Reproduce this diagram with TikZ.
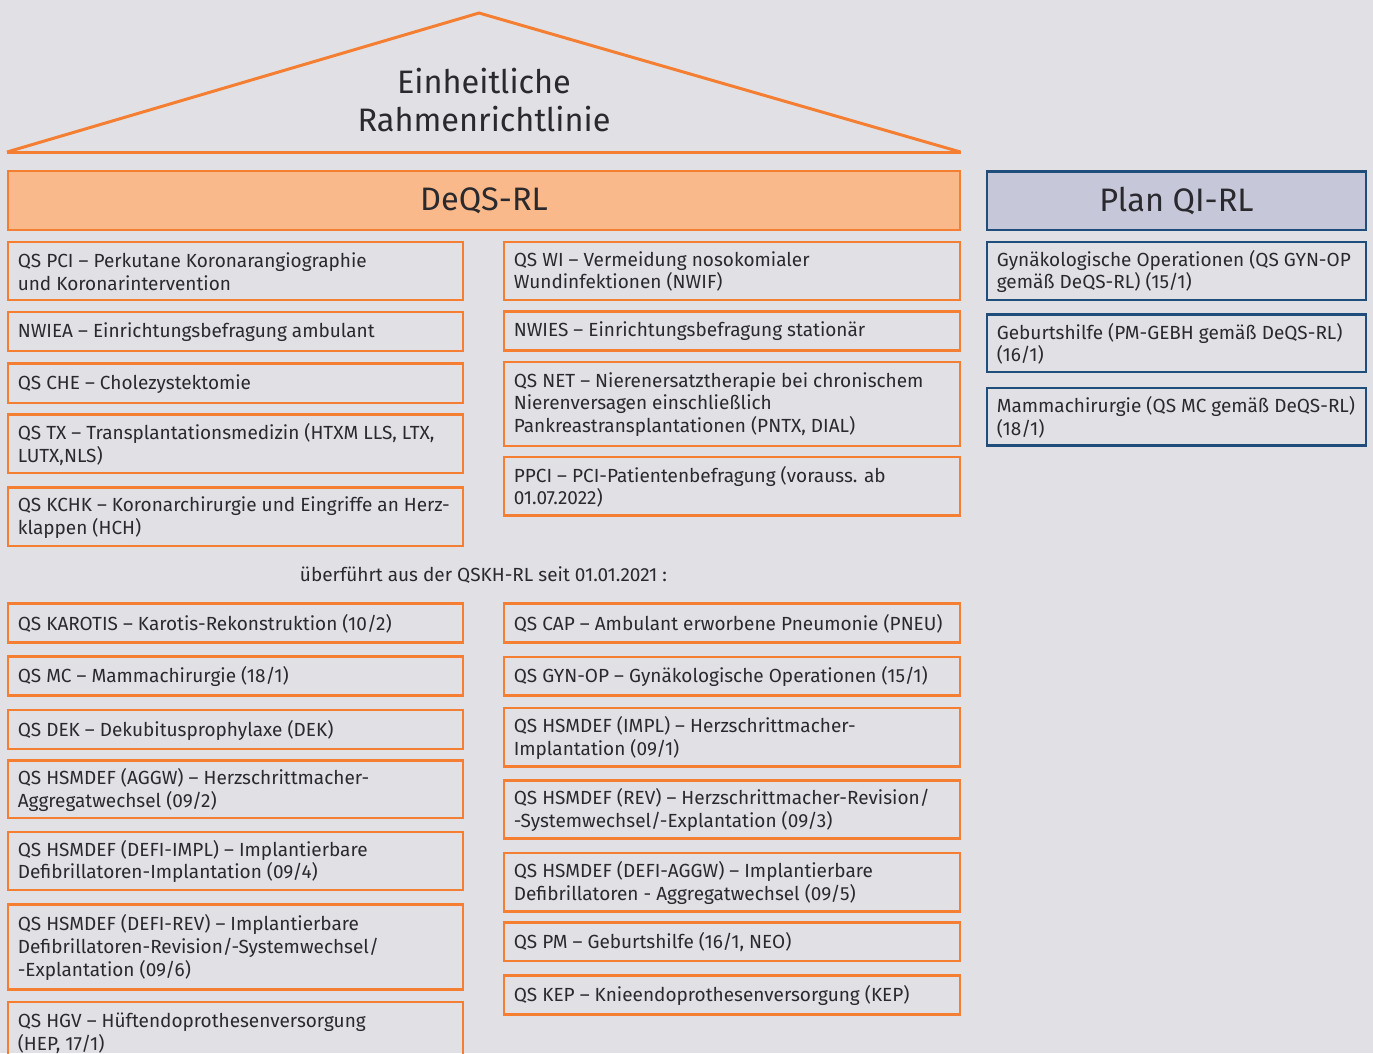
\documentclass[tikz,border=0pt]{standalone}
\usepackage{fontspec}
\setmainfont{Fira Sans}
\usetikzlibrary{fit}
\definecolor{bgc}{HTML}{E1E1E5}
\definecolor{org}{HTML}{F47F32}
\definecolor{orgfill}{HTML}{FAB98A}
\definecolor{blu}{HTML}{1F4E7C}
\definecolor{blufill}{HTML}{C6C8DA}
\definecolor{txc}{HTML}{2A2A2E}
\tikzset{
  obox/.style={draw=org, line width=2.8pt, inner sep=0pt},
  bbox/.style={draw=blu, line width=2.8pt, inner sep=0pt},
  txt/.style={anchor=west, xshift=11pt, yshift=-0.5pt, align=left, inner sep=0pt, text=txc,
    font=\fontsize{19}{22.8}\selectfont},
  big/.style={align=center, inner sep=0pt, text=txc, font=\fontsize{32.5}{38}\selectfont},
}
\begin{document}
\begin{tikzpicture}[x=1pt,y=-1pt]
\useasboundingbox (0,0) rectangle (1373,1053);
\clip (0,0) rectangle (1373,1053);
\fill[bgc] (0,0) rectangle (1373,1053);
% roof
\coordinate (rl) at (7,152);
\coordinate (ra) at (479,13);
\coordinate (rr) at (960.5,152);
\draw[org, line width=3pt, line join=miter] (rl) -- (ra) -- (rr);
\draw[org, line width=3pt] (rl) -- (rr);
\node[big] (rooft) at (484,100) {Einheitliche\\Rahmenrichtlinie};
% headers
\node[obox, fill=orgfill, fit={(8,171) (960,230)}] (deqs) {};
\node[big] at (deqs.center) {DeQS-RL};
\node[bbox, fill=blufill, fit={(987,171.5) (1366,230)}] (plan) {};
\node[big] at (plan.center) {Plan QI-RL};
% left column, group 1
\node[obox, fit={(8,242) (463,300)}] (pci) {};
\node[txt] (pcit) at (pci.west) {QS PCI – Perkutane Koronarangiographie\\und Koronarintervention};
\node[obox, fit={(8,312) (463,351)}] (nwiea) {};
\node[txt] (nwieat) at (nwiea.west) {NWIEA – Einrichtungsbefragung ambulant};
\node[obox, fit={(8,363.5) (463,403)}] (che) {};
\node[txt] (chet) at (che.west) {QS CHE – Cholezystektomie};
\node[obox, fit={(8,414.5) (463,473)}] (tx) {};
\node[txt] (txt) at (tx.west) {QS TX – Transplantationsmedizin (HTXM LLS, LTX,\\LUTX,NLS)};
\node[obox, fit={(8,487.5) (463,546)}] (kchk) {};
\node[txt] (kchkt) at (kchk.west) {QS KCHK – Koronarchirurgie und Eingriffe an Herz-\\klappen (HCH)};
% right column, group 1
\node[obox, fit={(504,242) (960,300)}] (wi) {};
\node[txt] (wit) at (wi.west) {QS WI – Vermeidung nosokomialer\\Wundinfektionen (NWIF)};
\node[obox, fit={(504,311.5) (960,350.5)}] (nwies) {};
\node[txt] (nwiest) at (nwies.west) {NWIES – Einrichtungsbefragung stationär};
\node[obox, fit={(504,362) (960,446)}] (net) {};
\node[txt] (nett) at (net.west) {QS NET – Nierenersatztherapie bei chronischem\\Nierenversagen einschließlich\\Pankreastransplantationen (PNTX, DIAL)};
\node[obox, fit={(504,457) (960,515.5)}] (ppci) {};
\node[txt] (ppcit) at (ppci.west) {PPCI – PCI-Patientenbefragung (vorauss. ab\\01.07.2022)};
% caption
\node[inner sep=0pt, text=txc, font=\fontsize{19}{22.8}\selectfont] (cap) at (483.5,575) {überführt aus der QSKH-RL seit 01.01.2021 :};
% left column, group 2
\node[obox, fit={(8,603.5) (463,642.5)}] (kar) {};
\node[txt] (kart) at (kar.west) {QS KAROTIS – Karotis-Rekonstruktion (10/2)};
\node[obox, fit={(8,656.5) (463,695.5)}] (mc) {};
\node[txt] (mct) at (mc.west) {QS MC – Mammachirurgie (18/1)};
\node[obox, fit={(8,710) (463,749)}] (dek) {};
\node[txt] (dekt) at (dek.west) {QS DEK – Dekubitusprophylaxe (DEK)};
\node[obox, fit={(8,760.5) (463,818)}] (aggw) {};
\node[txt] (aggwt) at (aggw.west) {QS HSMDEF (AGGW) – Herzschrittmacher-\\Aggregatwechsel (09/2)};
\node[obox, fit={(8,832) (463,890)}] (dimpl) {};
\node[txt] (dimplt) at (dimpl.west) {QS HSMDEF (DEFI-IMPL) – Implantierbare\\Defibrillatoren-Implantation (09/4)};
\node[obox, fit={(8,904.5) (463,989.5)}] (drev) {};
\node[txt] (drevt) at (drev.west) {QS HSMDEF (DEFI-REV) – Implantierbare\\Defibrillatoren-Revision/-Systemwechsel/\\-Explantation (09/6)};
\node[obox, fit={(8,1002) (463,1090)}] (hgv) {};
\node[txt, anchor=north west] (hgvt) at ([yshift=-12]hgv.north west) {QS HGV – Hüftendoprothesenversorgung\\(HEP, 17/1)};
% right column, group 2
\node[obox, fit={(504,603.5) (960,642.5)}] (capn) {};
\node[txt] (capnt) at (capn.west) {QS CAP – Ambulant erworbene Pneumonie (PNEU)};
\node[obox, fit={(504,657) (960,695.5)}] (gyn) {};
\node[txt] (gynt) at (gyn.west) {QS GYN-OP – Gynäkologische Operationen (15/1)};
\node[obox, fit={(504,708) (960,766.5)}] (impl) {};
\node[txt] (implt) at (impl.west) {QS HSMDEF (IMPL) – Herzschrittmacher-\\Implantation (09/1)};
\node[obox, fit={(504,780.5) (960,838.5)}] (rev) {};
\node[txt] (revt) at (rev.west) {QS HSMDEF (REV) – Herzschrittmacher-Revision/\\-Systemwechsel/-Explantation (09/3)};
\node[obox, fit={(504,853) (960,911.5)}] (daggw) {};
\node[txt] (daggwt) at (daggw.west) {QS HSMDEF (DEFI-AGGW) – Implantierbare\\Defibrillatoren - Aggregatwechsel (09/5)};
\node[obox, fit={(504,922.5) (960,961)}] (pm) {};
\node[txt] (pmt) at (pm.west) {QS PM – Geburtshilfe (16/1, NEO)};
\node[obox, fit={(504,975.5) (960,1014.5)}] (kep) {};
\node[txt] (kept) at (kep.west) {QS KEP – Knieendoprothesenversorgung (KEP)};
% plan column
\node[bbox, fit={(987,242) (1366,300)}] (p1) {};
\node[txt] (p1t) at (p1.west) {Gynäkologische Operationen (QS GYN-OP\\gemäß DeQS-RL) (15/1)};
\node[bbox, fit={(987,314.5) (1366,372)}] (p2) {};
\node[txt] (p2t) at (p2.west) {Geburtshilfe (PM-GEBH gemäß DeQS-RL)\\(16/1)};
\node[bbox, fit={(987,388) (1366,445.5)}] (p3) {};
\node[txt] (p3t) at (p3.west) {Mammachirurgie (QS MC gemäß DeQS-RL)\\(18/1)};
\end{tikzpicture}
\end{document}
